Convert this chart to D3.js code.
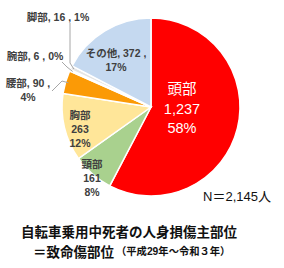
<!DOCTYPE html>
<html>
<head>
<meta charset="utf-8">
<script src="https://cdn.jsdelivr.net/npm/d3@7"></script>
<style>
  body { margin: 0; background: #fff; }
  svg { display: block; }
</style>
</head>
<body>
<div id="chart"></div>
<script>
// Data
var parts  = ["頭部", "頸部", "胸部", "腰部", "腕部", "脚部", "その他"];
var counts = [1237, 161, 263, 90, 6, 16, 372];
var shares = ["58%", "8%", "12%", "4%", "0%", "1%", "17%"];
var colors = ["#ff0000", "#a9d18e", "#ffe699", "#fb9a06", "#d0d0d0", "#e4e4e4", "#c5d9f0"];
var total  = "N＝2,145人";
var title1 = "自転車乗用中死者の人身損傷主部位";
var title2 = "＝致命傷部位";
var title3 = "（平成29年～令和３年）";

var width = 284, height = 268;
var cx = 151, cy = 107, radius = 89;
var fmt = d3.format(",");
var latinFont = "'Liberation Sans', 'Noto Sans CJK JP', sans-serif";

var svg = d3.select("#chart").append("svg")
    .attr("width", width)
    .attr("height", height);

var rows = parts.map(function(p, i) {
  return {part: p, count: counts[i], share: shares[i], color: colors[i]};
});

// Pie layout, clockwise from 12 o'clock, original order
var pie = d3.pie()
    .sort(null)
    .value(function(d) { return d.count; });

var arc = d3.arc()
    .innerRadius(0)
    .outerRadius(radius);

var g = svg.append("g")
    .attr("transform", "translate(" + cx + "," + cy + ")");

var slices = pie(rows);

g.selectAll(".slice")
    .data(slices)
  .enter().append("path")
    .attr("class", "slice")
    .attr("d", arc)
    .attr("fill", function(d) { return d.data.color; })
    .attr("stroke", "#fff")
    .attr("stroke-width", 1.5);

// point on the rim at a slice's middle angle
function rim(d, r) {
  var a = (d.startAngle + d.endAngle) / 2;
  return [Math.sin(a) * r, -Math.cos(a) * r];
}

// Label placement (text centres, relative to the pie centre)
var labelPos = {
  "頭部":  {x: 31,  y: -18, lines: 3, fill: "#fff", size: 14.5, gap: 19.5, bold: false},
  "頸部":  {x: -59, y: 57,  lines: 3, fill: "#404040", size: 10.5, gap: 14, bold: true},
  "胸部":  {x: -71, y: 8,   lines: 3, fill: "#404040", size: 10.5, gap: 14, bold: true},
  "腰部":  {x: -123, y: -24, lines: 2, fill: "#404040", size: 10.5, gap: 14, bold: true},
  "腕部":  {x: -116, y: -51, lines: 1, fill: "#404040", size: 10.5, gap: 14, bold: true},
  "脚部":  {x: -93, y: -90, lines: 1, fill: "#404040", size: 10.5, gap: 14, bold: true},
  "その他": {x: -35, y: -54, lines: 2, fill: "#404040", size: 10.5, gap: 14, bold: true}
};

function labelLines(d) {
  var p = labelPos[d.part];
  if (p.lines === 3) return [d.part, fmt(d.count), d.share];
  if (p.lines === 2) return [d.part + ", " + fmt(d.count) + " ,", d.share];
  return [d.part + ", " + fmt(d.count) + " , " + d.share];
}

// Leader lines for the small outside slices
var leaders = {
  "腰部": [[-99, -16], [-89, -26]],
  "腕部": [[-89, -45], [-84, -40]],
  "脚部": [[-81, -84], [-81, -44]]
};

slices.forEach(function(s) {
  var pts = leaders[s.data.part];
  if (!pts) return;
  var end = rim(s, radius - 3);
  g.append("path")
      .attr("d", d3.line()([pts[0], pts[1], end]))
      .attr("fill", "none")
      .attr("stroke", "#a6a6a6")
      .attr("stroke-width", 1);
});

slices.forEach(function(s) {
  var d = s.data, p = labelPos[d.part];
  var lines = labelLines(d);
  var t = g.append("text")
      .attr("text-anchor", "middle")
      .style("font-family", latinFont)
      .style("font-size", p.size + "px")
      .style("font-weight", p.bold ? "bold" : "normal")
      .attr("fill", p.fill);
  lines.forEach(function(line, i) {
    t.append("tspan")
        .attr("x", p.x)
        .attr("y", p.y + i * p.gap)
        .attr("dominant-baseline", "central")
        .text(line);
  });
});

// N label
svg.append("text")
    .attr("x", 237)
    .attr("y", 196)
    .attr("text-anchor", "middle")
    .attr("dominant-baseline", "central")
    .style("font-family", latinFont)
    .style("font-size", "13px")
    .attr("fill", "#111")
    .text(total);

// Title
svg.append("text")
    .attr("x", 21)
    .attr("y", 231)
    .attr("dominant-baseline", "central")
    .style("font-family", "'Noto Sans CJK JP', sans-serif")
    .style("font-size", "13.5px")
    .style("font-weight", "bold")
    .attr("fill", "#111")
    .text(title1);

var t2 = svg.append("text")
    .attr("x", 33)
    .attr("y", 251)
    .attr("dominant-baseline", "central")
    .style("font-family", "'Noto Sans CJK JP', sans-serif")
    .style("font-weight", "bold")
    .attr("fill", "#111");
t2.append("tspan")
    .style("font-size", "13.5px")
    .text(title2);
t2.append("tspan")
    .attr("dx", 2)
    .style("font-size", "10.3px")
    .style("font-family", latinFont)
    .text(title3);
</script>
</body>
</html>
